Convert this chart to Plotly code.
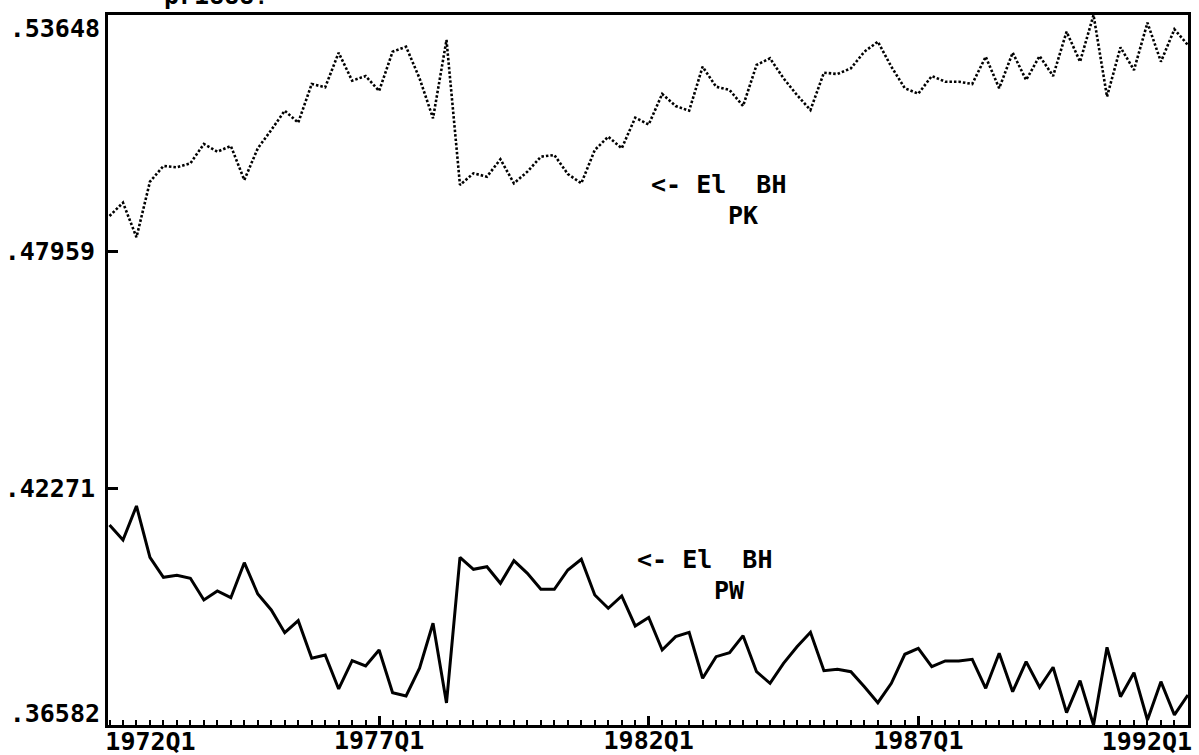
import plotly.graph_objects as go

# ---------------- data ----------------
start_year = 1972
n_obs = 81  # 1972Q1 .. 1992Q1
quarters = [f"{start_year + i // 4}Q{i % 4 + 1}" for i in range(n_obs)]
x_vals = [start_year + i / 4 for i in range(n_obs)]

# El BH (PK) – dotted series (upper)
el_bh_pk = [
    0.48817, 0.49137, 0.48305, 0.49641, 0.50019, 0.49988, 0.50084, 0.50548, 0.50363, 0.50500,
    0.49682, 0.50444, 0.50884, 0.51348, 0.51060, 0.51990, 0.51911, 0.52742, 0.52069, 0.52182,
    0.51822, 0.52766, 0.52886, 0.52127, 0.51165, 0.53048, 0.49562, 0.49843, 0.49762, 0.50180,
    0.49603, 0.49882, 0.50242, 0.50283, 0.49827, 0.49603, 0.50403, 0.50723, 0.50444, 0.51180,
    0.51016, 0.51750, 0.51461, 0.51348, 0.52406, 0.51925, 0.51846, 0.51461, 0.52447, 0.52608,
    0.52127, 0.51725, 0.51365, 0.52262, 0.52230, 0.52367, 0.52766, 0.53007, 0.52406, 0.51887,
    0.51757, 0.52182, 0.52045, 0.52045, 0.51990, 0.52646, 0.51887, 0.52742, 0.52086, 0.52663,
    0.52182, 0.53247, 0.52526, 0.53648, 0.51685, 0.52872, 0.52326, 0.53463, 0.52526, 0.53305,
    0.52927,
]

# El BH (PW) – solid series (lower)
el_bh_pw = [
    0.41390, 0.41029, 0.41846, 0.40613, 0.40132, 0.40180, 0.40108, 0.39587, 0.39803, 0.39642,
    0.40483, 0.39731, 0.39346, 0.38801, 0.39089, 0.38185, 0.38265, 0.37448, 0.38128, 0.38000,
    0.38385, 0.37359, 0.37279, 0.37945, 0.39027, 0.37111, 0.40613, 0.40325, 0.40387, 0.39988,
    0.40531, 0.40228, 0.39844, 0.39844, 0.40308, 0.40565, 0.39707, 0.39387, 0.39683, 0.38962,
    0.39166, 0.38385, 0.38705, 0.38810, 0.37705, 0.38224, 0.38320, 0.38729, 0.37863, 0.37584,
    0.38065, 0.38464, 0.38810, 0.37887, 0.37921, 0.37863, 0.37503, 0.37118, 0.37584, 0.38282,
    0.38426, 0.37984, 0.38121, 0.38121, 0.38161, 0.37464, 0.38306, 0.37383, 0.38104, 0.37488,
    0.37969, 0.36878, 0.37647, 0.36582, 0.38450, 0.37263, 0.37839, 0.36702, 0.37623, 0.36823,
    0.37303,
]

y_tick_vals = [0.36582, 0.42271, 0.47959, 0.53648]
y_tick_text = [".36582", ".42271", ".47959", ".53648"]
x_tick_vals = [1972, 1977, 1982, 1987, 1992]
x_tick_text = ["1972Q1", "1977Q1", "1982Q1", "1987Q1", "1992Q1"]

label_pk = ["<-\u00a0El\u00a0\u00a0BH", "PK"]
label_pw = ["<-\u00a0El\u00a0\u00a0BH", "PW"]
top_fragment = "pr1888?"

# ---------------- figure ----------------
FONT = dict(family="DejaVu Sans Mono", size=25, color="black", weight="bold")
X_RANGE = [1971.972, 1992.002]
Y_RANGE = [0.365815, 0.536485]

fig = go.Figure()
fig.add_trace(go.Scatter(
    x=x_vals, y=el_bh_pk, mode="lines", name="El BH PK",
    line=dict(color="black", width=2.6, dash="2.5px,2px"),
    hoverinfo="skip", showlegend=False,
))
fig.add_trace(go.Scatter(
    x=x_vals, y=el_bh_pw, mode="lines", name="El BH PW",
    line=dict(color="black", width=3),
    hoverinfo="skip", showlegend=False,
))
# empty helper traces so the overlay axes (edge tick labels) get drawn
for xa, ya in [("x2", "y"), ("x3", "y"), ("x", "y2"), ("x", "y3")]:
    fig.add_trace(go.Scatter(x=[None], y=[None], xaxis=xa, yaxis=ya, mode="lines",
                             hoverinfo="skip", showlegend=False))

common_x = dict(range=X_RANGE, showgrid=False, zeroline=False, tickfont=FONT,
                fixedrange=True, automargin=False)
common_y = dict(range=Y_RANGE, showgrid=False, zeroline=False, tickfont=FONT,
                fixedrange=True, automargin=False)

fig.update_layout(
    template="none",
    width=1199, height=755,
    margin=dict(l=108, r=11, t=15, b=30, pad=0),
    paper_bgcolor="white", plot_bgcolor="white",
    showlegend=False,
    xaxis=dict(
        **common_x,
        tickvals=x_tick_vals[1:-1], ticktext=x_tick_text[1:-1],
        ticklabelstandoff=-9,
        ticks="inside", ticklen=9, tickwidth=2.5, tickcolor="black",
        showline=True, mirror=True, linecolor="black", linewidth=3,
        minor=dict(ticks="inside", ticklen=5, tickwidth=2, tickcolor="black",
                   tick0=1972, dtick=0.25, showgrid=False),
    ),
    xaxis2=dict(
        **common_x, overlaying="x", anchor="y", side="bottom",
        tickvals=x_tick_vals[:1], ticktext=x_tick_text[:1],
        ticklabelshift=41, ticklabelstandoff=-1, ticks="", showline=False,
    ),
    xaxis3=dict(
        **common_x, overlaying="x", anchor="y", side="bottom",
        tickvals=x_tick_vals[-1:], ticktext=x_tick_text[-1:],
        ticklabelshift=-41, ticklabelstandoff=-1, ticks="", showline=False,
    ),
    yaxis=dict(
        **common_y,
        tickvals=y_tick_vals[1:3], ticktext=y_tick_text[1:3],
        ticklabelstandoff=5,
        ticks="inside", ticklen=10, tickwidth=2.5, tickcolor="black",
        showline=True, mirror=True, linecolor="black", linewidth=3,
    ),
    yaxis2=dict(
        **common_y, overlaying="y", anchor="x", side="left",
        tickvals=y_tick_vals[-1:], ticktext=y_tick_text[-1:],
        ticklabelshift=13, ticklabelstandoff=7, ticks="", showline=False,
    ),
    yaxis3=dict(
        **common_y, overlaying="y", anchor="x", side="left",
        tickvals=y_tick_vals[:1], ticktext=y_tick_text[:1],
        ticklabelshift=-12, ticklabelstandoff=7, ticks="", showline=False,
    ),
)

ann = [
    (label_pk[0], 0.5019, 0.7606),
    (label_pk[1], 0.5731, 0.7183),
    (label_pw[0], 0.4889, 0.2324),
    (label_pw[1], 0.5602, 0.1901),
    (top_fragment, 0.0509, 1.0269),
]
for text, xp, yp in ann:
    fig.add_annotation(text=text, xref="paper", yref="paper", x=xp, y=yp,
                       xanchor="left", yanchor="middle", showarrow=False,
                       font=FONT, borderpad=0)

fig.write_html("out.html", config={"displayModeBar": False},
               post_script="document.body.style.margin='0';document.body.style.overflow='hidden';")
